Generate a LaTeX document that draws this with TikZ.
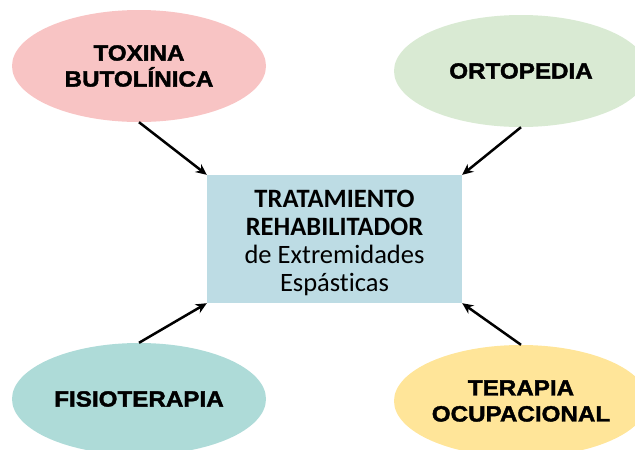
\documentclass[tikz,border=0pt]{standalone}
\usepackage{fontspec}
\setmainfont{Carlito}[Ligatures=NoCommon]
\newfontfamily\ovalfont{Liberation Sans}[FakeStretch=1.1, FakeBold=1.8]
\usetikzlibrary{shapes.geometric}
\usetikzlibrary{arrows.meta}
\definecolor{cpink}{RGB}{248, 196, 196}
\definecolor{cgreen}{RGB}{217, 234, 211}
\definecolor{cteal}{RGB}{174, 219, 216}
\definecolor{cyellow}{RGB}{255, 229, 153}
\definecolor{cbox}{RGB}{189, 220, 228}

\begin{document}
\begin{tikzpicture}[oval/.style={ellipse, minimum width=254pt, minimum height=112pt, inner sep=0pt, align=center, font=\ovalfont\bfseries\fontsize{22pt}{26pt}\selectfont},
link/.style={line width=2.5pt, color=black, -{Stealth[length=11pt, width=10pt]}}]
\clip (0pt, 0pt) rectangle (635pt, -450pt);
\node (1) [oval, fill=cpink] at (139.0pt, -66.0pt) {TOXINA\\BUTOLÍNICA};
\node (2) [oval, fill=cgreen] at (521.0pt, -71.0pt) {ORTOPEDIA};
\node (3) [oval, fill=cteal] at (139.0pt, -399.0pt) {FISIOTERAPIA};
\node (4) [oval, fill=cyellow] at (521.0pt, -401.0pt) {TERAPIA\\OCUPACIONAL};
\node (5) [rectangle, fill=cbox, minimum width=255pt, minimum height=128pt, inner sep=0pt,
  label={[yshift=-4pt, align=center, font=\fontsize{26.5pt}{28pt}\selectfont]center:{\textbf{TRATAMIENTO}\\\textbf{REHABILITADOR}\\de Extremidades\\Espásticas}}] at (334.5pt, -239.0pt) {};
\draw [link] (1.south) to (5.north west);
\draw [link] (2.south) to (5.north east);
\draw [link] (3.north) to (5.south west);
\draw [link] (4.north) to (5.south east);
\end{tikzpicture}
\end{document}
